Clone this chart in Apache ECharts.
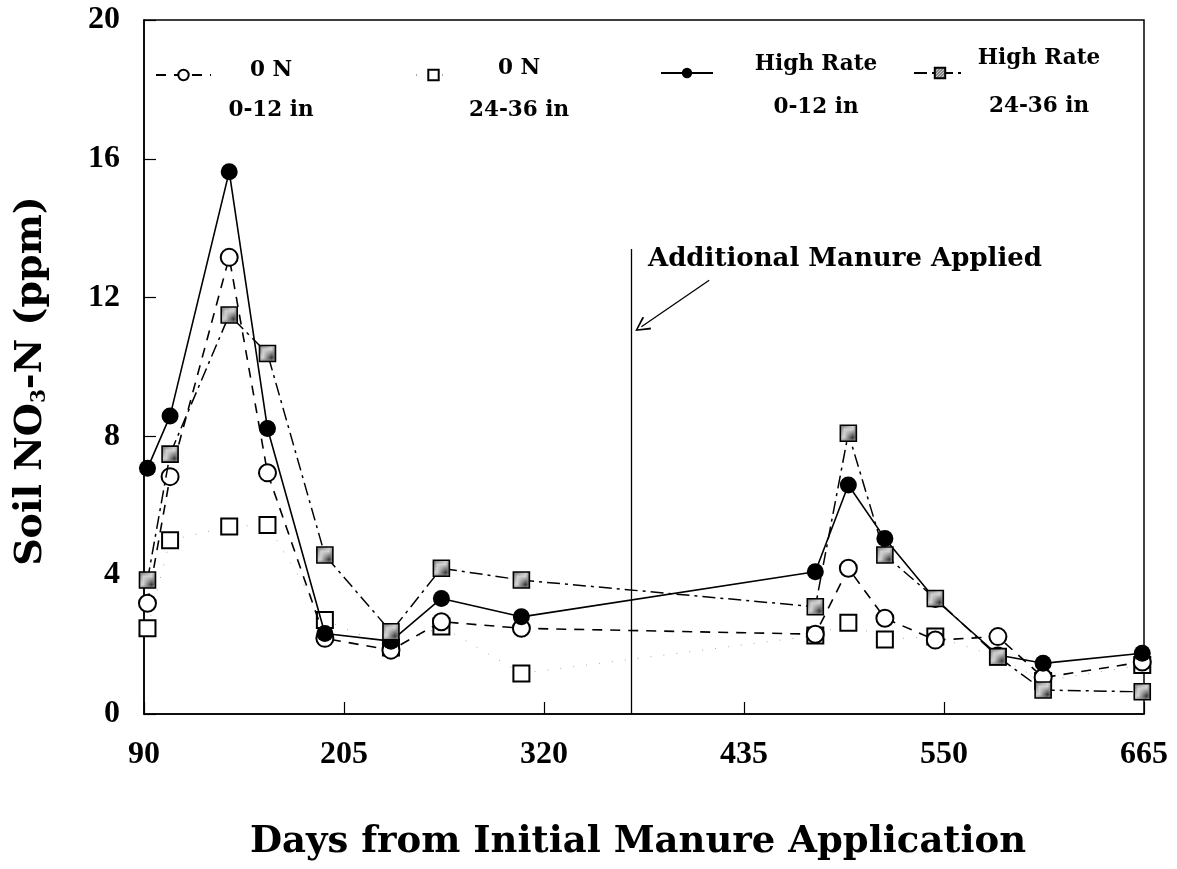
<!DOCTYPE html>
<html><head><meta charset="utf-8">
<script src="https://cdn.jsdelivr.net/npm/echarts@6/dist/echarts.min.js"></script>
<style>html,body{margin:0;padding:0;background:#fff}#c{width:1177px;height:869px}</style>
</head><body><div id="c"></div>
<script>
// ---- data ----
const days        = [92, 105, 139, 161, 194, 232, 261, 307, 476, 495, 516, 545, 581, 607, 664];
const zeroN_0_12  = [3.19, 6.84, 13.16, 6.95, 2.18, 1.84, 2.66, 2.47, 2.30, 4.20, 2.76, 2.13, 2.23, 1.05, 1.50];
const zeroN_24_36 = [2.47, 5.01, 5.40, 5.45, 2.71, 1.92, 2.52, 1.17, 2.26, 2.63, 2.15, 2.23, 1.65, 0.95, 1.41];
const high_0_12   = [7.08, 8.59, 15.63, 8.23, 2.32, 2.10, 3.33, 2.80, 4.10, 6.60, 5.06, 3.30, 1.70, 1.46, 1.75];
const high_24_36  = [3.86, 7.49, 11.50, 10.39, 4.58, 2.37, 4.20, 3.86, 3.09, 8.09, 4.58, 3.33, 1.65, 0.69, 0.64];
const seriesNames = ['0 N 0-12 in', '0 N 24-36 in', 'High Rate 0-12 in', 'High Rate 24-36 in'];
const legendLines = [['0 N', '0-12 in'], ['0 N', '24-36 in'], ['High Rate', '0-12 in'], ['High Rate', '24-36 in']];
const xMin = 90, xMax = 665, xStep = 115;
const yMin = 0, yMax = 20, yStep = 4;
const manureDay = 370, manureTop = 13.4;
const arrowFrom = [415, 12.5], arrowTo = [376, 11.16];
const noteText = 'Additional Manure Applied';
const xTitle = 'Days from Initial Manure Application';

// shaded (stippled) fill for High Rate 24-36 squares
const pc = document.createElement('canvas'); pc.width = 3; pc.height = 3;
const g = pc.getContext('2d');
g.fillStyle = '#cfcfcf'; g.fillRect(0, 0, 3, 3);
g.fillStyle = '#383838'; g.fillRect(0, 0, 1, 1); g.fillRect(1, 2, 1, 1); g.fillRect(2, 1, 1, 1);
const shade = { image: pc, repeat: 'repeat' };

const pts = v => days.map((d, i) => [d, v[i]]);
const serif = 'Liberation Serif';
const wide = 'DejaVu Serif';

const chevron = 'path://M50,0 L100,88 L90,96 L50,20 L10,96 L0,88 Z';

function leg(idx, left, top, iw, lh, pad, w) {
  return {
    data: [seriesNames[idx]], left: left, top: top, padding: 0,
    itemWidth: iw, itemHeight: 13, selectedMode: false,
    formatter: () => '{t|' + legendLines[idx][0] + '}\n{t|' + legendLines[idx][1] + '}',
    textStyle: {
      color: '#000', padding: [pad, 0, 0, 0],
      rich: { t: { width: w, align: 'center', lineHeight: lh, fontFamily: wide, fontWeight: 'bold', fontSize: 21.5, color: '#000' } }
    }
  };
}

const chart = echarts.init(document.getElementById('c'), null, { renderer: 'canvas' });
chart.setOption({
  animation: false,
  backgroundColor: '#fff',
  grid: { left: 144, right: 33, top: 20, bottom: 155, show: true, borderColor: '#000', borderWidth: 1.5, backgroundColor: 'transparent' },
  legend: [
    leg(0, 155, 59, 55, 40, 30, 110),
    leg(1, 415, 57, 35, 42, 28, 126),
    leg(2, 660, 53, 52, 43, 25, 196),
    leg(3, 913, 47, 52, 48, 18, 136)
  ],
  xAxis: {
    type: 'value', min: xMin, max: xMax, interval: xStep,
    axisLine: { lineStyle: { color: '#000', width: 1.5 } },
    axisTick: { inside: true, length: 12, lineStyle: { color: '#000', width: 1.2 } },
    splitLine: { show: false },
    axisLabel: { margin: 25, color: '#000', fontFamily: serif, fontWeight: 'bold', fontSize: 32 },
    name: xTitle, nameLocation: 'middle', nameGap: 110,
    nameTextStyle: { color: '#000', fontFamily: wide, fontWeight: 'bold', fontSize: 37, padding: [0, 12, 0, 0] }
  },
  yAxis: {
    type: 'value', min: yMin, max: yMax, interval: yStep,
    axisLine: { lineStyle: { color: '#000', width: 1.5 } },
    axisTick: { inside: true, length: 12, lineStyle: { color: '#000', width: 1.2 } },
    splitLine: { show: false },
    axisLabel: { margin: 24, color: '#000', fontFamily: serif, fontWeight: 'bold', fontSize: 32 }
  },
  graphic: [
    { type: 'text', left: 648, top: 246, style: { text: noteText, fill: '#000', fontFamily: wide, fontWeight: 'bold', fontSize: 26 } },
    { type: 'text', x: 31, y: 381, rotation: Math.PI / 2,
      style: { text: 'Soil NO{s|3}-N (ppm)', align: 'center', verticalAlign: 'middle', fill: '#000',
        fontFamily: wide, fontWeight: 'bold', fontSize: 38,
        rich: { s: { fontFamily: wide, fontWeight: 'bold', fontSize: 20, verticalAlign: 'bottom', fill: '#000' } } } }
  ],
  series: [
    { name: seriesNames[1], type: 'line', data: pts(zeroN_24_36), z: 2,
      symbol: 'emptyRect', symbolSize: 16,
      itemStyle: { color: '#000', borderWidth: 1.6 },
      lineStyle: { color: '#a8a8a8', width: 1, type: [1, 12] } },
    { name: seriesNames[0], type: 'line', data: pts(zeroN_0_12), z: 3,
      symbol: 'emptyCircle', symbolSize: 17,
      itemStyle: { color: '#000', borderWidth: 1.6 },
      lineStyle: { color: '#000', width: 1.6, type: [10, 8] } },
    { name: seriesNames[2], type: 'line', data: pts(high_0_12), z: 4,
      symbol: 'circle', symbolSize: 17,
      itemStyle: { color: '#000' },
      lineStyle: { color: '#000', width: 1.6, type: 'solid' },
      markLine: {
        silent: true, animation: false, label: { show: false },
        lineStyle: { color: '#000', width: 1.3, type: 'solid' },
        data: [
          [{ coord: [manureDay, yMin], symbol: 'none' }, { coord: [manureDay, manureTop], symbol: 'none' }],
          [{ coord: arrowFrom, symbol: 'none' }, { coord: arrowTo, symbol: chevron, symbolSize: [15, 15] }]
        ]
      } },
    { name: seriesNames[3], type: 'line', data: pts(high_24_36), z: 5,
      symbol: 'rect', symbolSize: 16,
      itemStyle: { color: shade, borderColor: '#000', borderWidth: 1.6 },
      lineStyle: { color: '#000', width: 1.5, type: [13, 5, 3, 5] } }
  ]
});
</script></body></html>
